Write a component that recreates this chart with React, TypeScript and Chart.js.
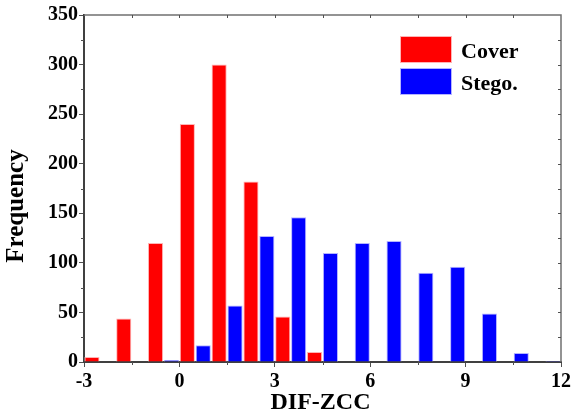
import { useEffect, useRef } from 'react';
import { Chart, registerables } from 'chart.js';

Chart.register(...registerables);

// Histogram bins (centres of unit-wide bins from -3 to 12)
const binCenters = ['-2.5', '-1.5', '-0.5', '0.5', '1.5', '2.5', '3.5', '4.5', '5.5', '6.5', '7.5', '8.5', '9.5', '10.5', '11.5'];
const coverCounts = [5, 44, 120, 240, 300, 182, 46, 10, 0, 0, 0, 0, 0, 0, 0];
const stegoCounts = [0, 0, 2, 17, 57, 127, 146, 110, 120, 122, 90, 96, 49, 9, 1];
const seriesNames = ['Cover', 'Stego.'];
const xTickValues = [-3, 0, 3, 6, 9, 12];
const yTickValues = [0, 50, 100, 150, 200, 250, 300, 350];
const xTitle = 'DIF-ZCC';
const yTitle = 'Frequency';

const FONT = 'Liberation Serif';

const framePlugin = {
  id: 'frame',
  afterDraw(chart: any) {
    const { ctx, chartArea: a, scales } = chart;
    const ys = scales.y;
    const xs = scales.x2;
    ctx.save();
    // top and right frame
    ctx.strokeStyle = '#707070';
    ctx.lineWidth = 1.5;
    ctx.beginPath();
    ctx.moveTo(a.left, a.top);
    ctx.lineTo(a.right, a.top);
    ctx.lineTo(a.right, a.bottom);
    ctx.stroke();

    ctx.lineWidth = 1;
    ctx.strokeStyle = '#505050';
    ctx.beginPath();
    // y minor ticks (left outward), right inward ticks
    for (let v = 25; v < 350; v += 25) {
      const py = Math.round(ys.getPixelForValue(v)) + 0.5;
      if (v % 50 !== 0) {
        ctx.moveTo(a.left, py);
        ctx.lineTo(a.left - 3, py);
      }
      ctx.moveTo(a.right, py);
      ctx.lineTo(a.right - 3, py);
    }
    // x minor ticks (bottom outward), top inward ticks
    for (let v = -1.5; v < 12; v += 1.5) {
      const px = Math.round(xs.getPixelForValue(v)) + 0.5;
      if (Math.abs(v % 3) > 0.01) {
        ctx.moveTo(px, a.bottom);
        ctx.lineTo(px, a.bottom + 3);
      }
      ctx.moveTo(px, a.top);
      ctx.lineTo(px, a.top + 3);
    }
    ctx.stroke();

    // axis titles
    ctx.fillStyle = '#000';
    ctx.font = `bold 24px "${FONT}"`;
    ctx.textAlign = 'center';
    ctx.textBaseline = 'alphabetic';
    ctx.fillText(xTitle, (a.left + a.right) / 2 - 2, 409);
    ctx.save();
    ctx.translate(22.5, 206);
    ctx.rotate(-Math.PI / 2);
    ctx.font = `bold 25px "${FONT}"`;
    ctx.fillText(yTitle, 0, 0);
    ctx.restore();

    // legend
    const ds = chart.data.datasets;
    ctx.font = `bold 22px "${FONT}"`;
    ctx.textAlign = 'left';
    ds.forEach((d: any, i: number) => {
      const bx = 400;
      const by = 36 + i * 32;
      ctx.fillStyle = d.backgroundColor;
      ctx.fillRect(bx, by, 52, 27);
      ctx.strokeStyle = d.borderColor;
      ctx.lineWidth = 1;
      ctx.strokeRect(bx + 0.5, by + 0.5, 51, 26);
      ctx.fillStyle = '#000';
      ctx.fillText(d.label, 461, by + 13.5 + 8);
    });
    ctx.restore();
  },
};

export default function App() {
  const ref = useRef<HTMLCanvasElement>(null);
  useEffect(() => {
    document.body.style.margin = '0';
    const canvas = ref.current!;
    const chart = new Chart(canvas, {
      type: 'bar',
      data: {
        labels: binCenters,
        datasets: [
          {
            label: seriesNames[0],
            data: coverCounts,
            backgroundColor: '#ff0000',
            borderColor: '#ffb4b4',
            borderWidth: 1,
            categoryPercentage: 1,
            barPercentage: 0.95,
            xAxisID: 'x',
          },
          {
            label: seriesNames[1],
            data: stegoCounts,
            backgroundColor: '#0000ff',
            borderColor: '#b4b4ff',
            borderWidth: 1,
            categoryPercentage: 1,
            barPercentage: 0.95,
            xAxisID: 'x',
          },
        ],
      },
      options: {
        responsive: false,
        animation: false,
        layout: { padding: { left: 0, right: 12, top: 15, bottom: 0 } },
        plugins: { legend: { display: false }, tooltip: { enabled: false } },
        scales: {
          x: { type: 'category', display: false, offset: true },
          x2: {
            type: 'linear',
            position: 'bottom',
            offset: false,
            min: xTickValues[0],
            max: xTickValues[xTickValues.length - 1],
            afterBuildTicks: (s: any) => {
              s.ticks = xTickValues.map((v) => ({ value: v }));
            },
            afterFit: (s: any) => {
              s.height = 51;
            },
            grid: { offset: false, drawOnChartArea: false, tickLength: 5, tickColor: '#505050', tickWidth: 1 },
            border: { display: true, color: '#404040', width: 2 },
            ticks: {
              color: '#000',
              padding: 3,
              maxRotation: 0,
              autoSkip: false,
              font: { family: FONT, size: 20, weight: 'bold' },
            },
          },
          y: {
            min: 0,
            max: yTickValues[yTickValues.length - 1],
            afterBuildTicks: (s: any) => {
              s.ticks = yTickValues.map((v) => ({ value: v }));
            },
            afterFit: (s: any) => {
              s.width = 84;
            },
            grid: { drawOnChartArea: false, tickLength: 5, tickColor: '#505050', tickWidth: 1 },
            border: { display: true, color: '#404040', width: 2 },
            ticks: {
              color: '#000',
              padding: 1,
              autoSkip: false,
              font: { family: FONT, size: 20, weight: 'bold' },
            },
          },
        },
      },
      plugins: [framePlugin],
    } as any);
    return () => chart.destroy();
  }, []);
  return <canvas ref={ref} width={574} height={413} style={{ display: 'block' }} />;
}
